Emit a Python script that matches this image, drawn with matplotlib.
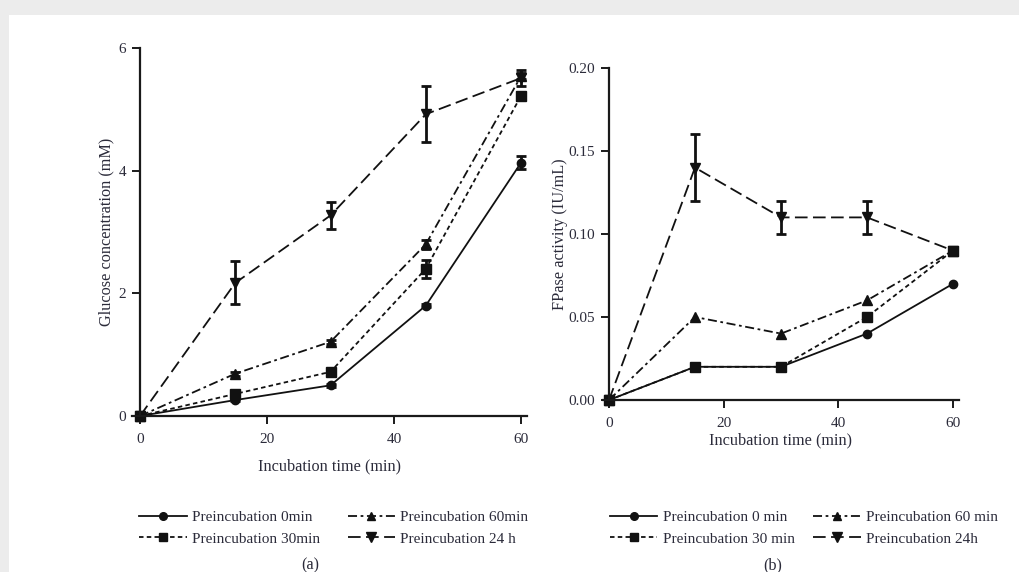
import matplotlib
matplotlib.use("Agg")
import matplotlib.pyplot as plt
from matplotlib.patches import Rectangle
from matplotlib.lines import Line2D

plt.rcParams['font.family'] = ['Liberation Serif', 'DejaVu Serif']

time = [0, 15, 30, 45, 60]

# Panel (a): glucose concentration (mM)
glc_0min = [0, 0.26, 0.50, 1.80, 4.13]
glc_0min_err = [0, 0.02, 0.02, 0.03, 0.11]
glc_30min = [0, 0.36, 0.72, 2.40, 5.22]
glc_30min_err = [0, 0.03, 0.03, 0.15, 0.07]
glc_60min = [0, 0.69, 1.21, 2.80, 5.54]
glc_60min_err = [0, 0.03, 0.03, 0.07, 0.05]
glc_24h = [0, 2.17, 3.27, 4.92, 5.51]
glc_24h_err = [0, 0.35, 0.22, 0.46, 0.13]

# Panel (b): FPase activity (IU/mL)
fp_0min = [0, 0.02, 0.02, 0.04, 0.07]
fp_30min = [0, 0.02, 0.02, 0.05, 0.09]
fp_60min = [0, 0.05, 0.04, 0.06, 0.09]
fp_24h = [0, 0.14, 0.11, 0.11, 0.09]
fp_24h_err = [0, 0.02, 0.01, 0.01, 0.0]

labels_a = ["Preincubation 0min", "Preincubation 30min",
            "Preincubation 60min", "Preincubation 24 h"]
labels_b = ["Preincubation 0 min", "Preincubation 30 min",
            "Preincubation 60 min", "Preincubation 24h"]

TXT = '#2b2b3a'
fig = plt.figure(figsize=(10.19, 5.72), dpi=100, facecolor='#ececec')
fig.patches.append(Rectangle((9/1019, 0), 1 - 9/1019, (572-15)/572,
                             transform=fig.transFigure, facecolor='white',
                             edgecolor='none', zorder=-1))

styles = [
    dict(marker='o', linestyle='-', ms=6),
    dict(marker='s', linestyle=(0, (2.5, 1.8)), ms=6.5),
    dict(marker='^', linestyle=(0, (5, 2, 1.5, 2)), ms=6.5),
    dict(marker='v', linestyle=(0, (7, 3)), ms=7),
]


def style_axes(ax):
    for s in ['top', 'right']:
        ax.spines[s].set_visible(False)
    ax.spines['left'].set_position(('data', 0))
    for s in ['left', 'bottom']:
        ax.spines[s].set_linewidth(1.6)
        ax.spines[s].set_color('#1a1a1a')
    ax.tick_params(direction='out', length=6, width=1.4, colors='#1a1a1a',
                   labelsize=11, labelcolor=TXT, pad=4)
    ax.tick_params(axis='x', pad=6)
    ax.set_xticks([0, 20, 40, 60])
    ax.patch.set_alpha(0)


# ---- Panel (a)
axa = fig.add_axes([132.4/1019, (572-416)/572, 395/1019, 368/572])
series_a = [(glc_0min, glc_0min_err), (glc_30min, glc_30min_err),
            (glc_60min, glc_60min_err), (glc_24h, glc_24h_err)]
for (y, e), st in zip(series_a, styles):
    axa.errorbar(time, y, yerr=e, color='#111111', lw=1.3, elinewidth=2.0,
                 capsize=3.5, capthick=2.0, marker=st['marker'],
                 linestyle=st['linestyle'], ms=st['ms'], clip_on=False)
axa.set_xlim(-1.2, 61)
axa.set_ylim(0, 6)
axa.set_yticks([0, 2, 4, 6])
style_axes(axa)
axa.set_xlabel("Incubation time (min)", fontsize=11.7, color=TXT, labelpad=9)
axa.set_ylabel("Glucose concentration (mM)", fontsize=11.7, color=TXT, labelpad=3)

# ---- Panel (b)
axb = fig.add_axes([602.7/1019, (572-400)/572, 356/1019, 332/572])
series_b = [(fp_0min, None), (fp_30min, None), (fp_60min, None), (fp_24h, fp_24h_err)]
for (y, e), st in zip(series_b, styles):
    axb.errorbar(time, y, yerr=e, color='#111111', lw=1.3, elinewidth=2.0,
                 capsize=3.5, capthick=2.0, marker=st['marker'],
                 linestyle=st['linestyle'], ms=st['ms'], clip_on=False)
axb.set_xlim(-1.1, 61)
axb.set_ylim(0, 0.2)
axb.set_yticks([0, 0.05, 0.10, 0.15, 0.20])
axb.set_yticklabels(["0.00", "0.05", "0.10", "0.15", "0.20"])
style_axes(axb)
axb.set_xlabel("Incubation time (min)", fontsize=11.7, color=TXT, labelpad=2)
axb.set_ylabel("FPase activity (IU/mL)", fontsize=11.7, color=TXT, labelpad=0)

# ---- Legends
def handles():
    hs = []
    for st in styles:
        hs.append(Line2D([], [], color='#111111', lw=1.3, marker=st['marker'],
                         linestyle=st['linestyle'], ms=st['ms'] - 0.5))
    return hs

for labels, cx, cs in [(labels_a, 334/1019, 1.8), (labels_b, 804/1019, 1.2)]:
    leg = fig.legend(handles(), labels, loc='center', bbox_to_anchor=(cx, (572-528)/572),
                     ncol=2, frameon=False, fontsize=11, handlelength=3.1,
                     handletextpad=0.35, columnspacing=cs, labelspacing=0.5,
                     borderpad=0)
    for t in leg.get_texts():
        t.set_color(TXT)

fig.text(310/1019, (572-565)/572, "(a)", ha='center', va='center', fontsize=11.7, color=TXT)
fig.text(773/1019, (572-565)/572, "(b)", ha='center', va='center', fontsize=11.7, color=TXT)

fig.savefig("out.png", dpi=100, facecolor=fig.get_facecolor())
